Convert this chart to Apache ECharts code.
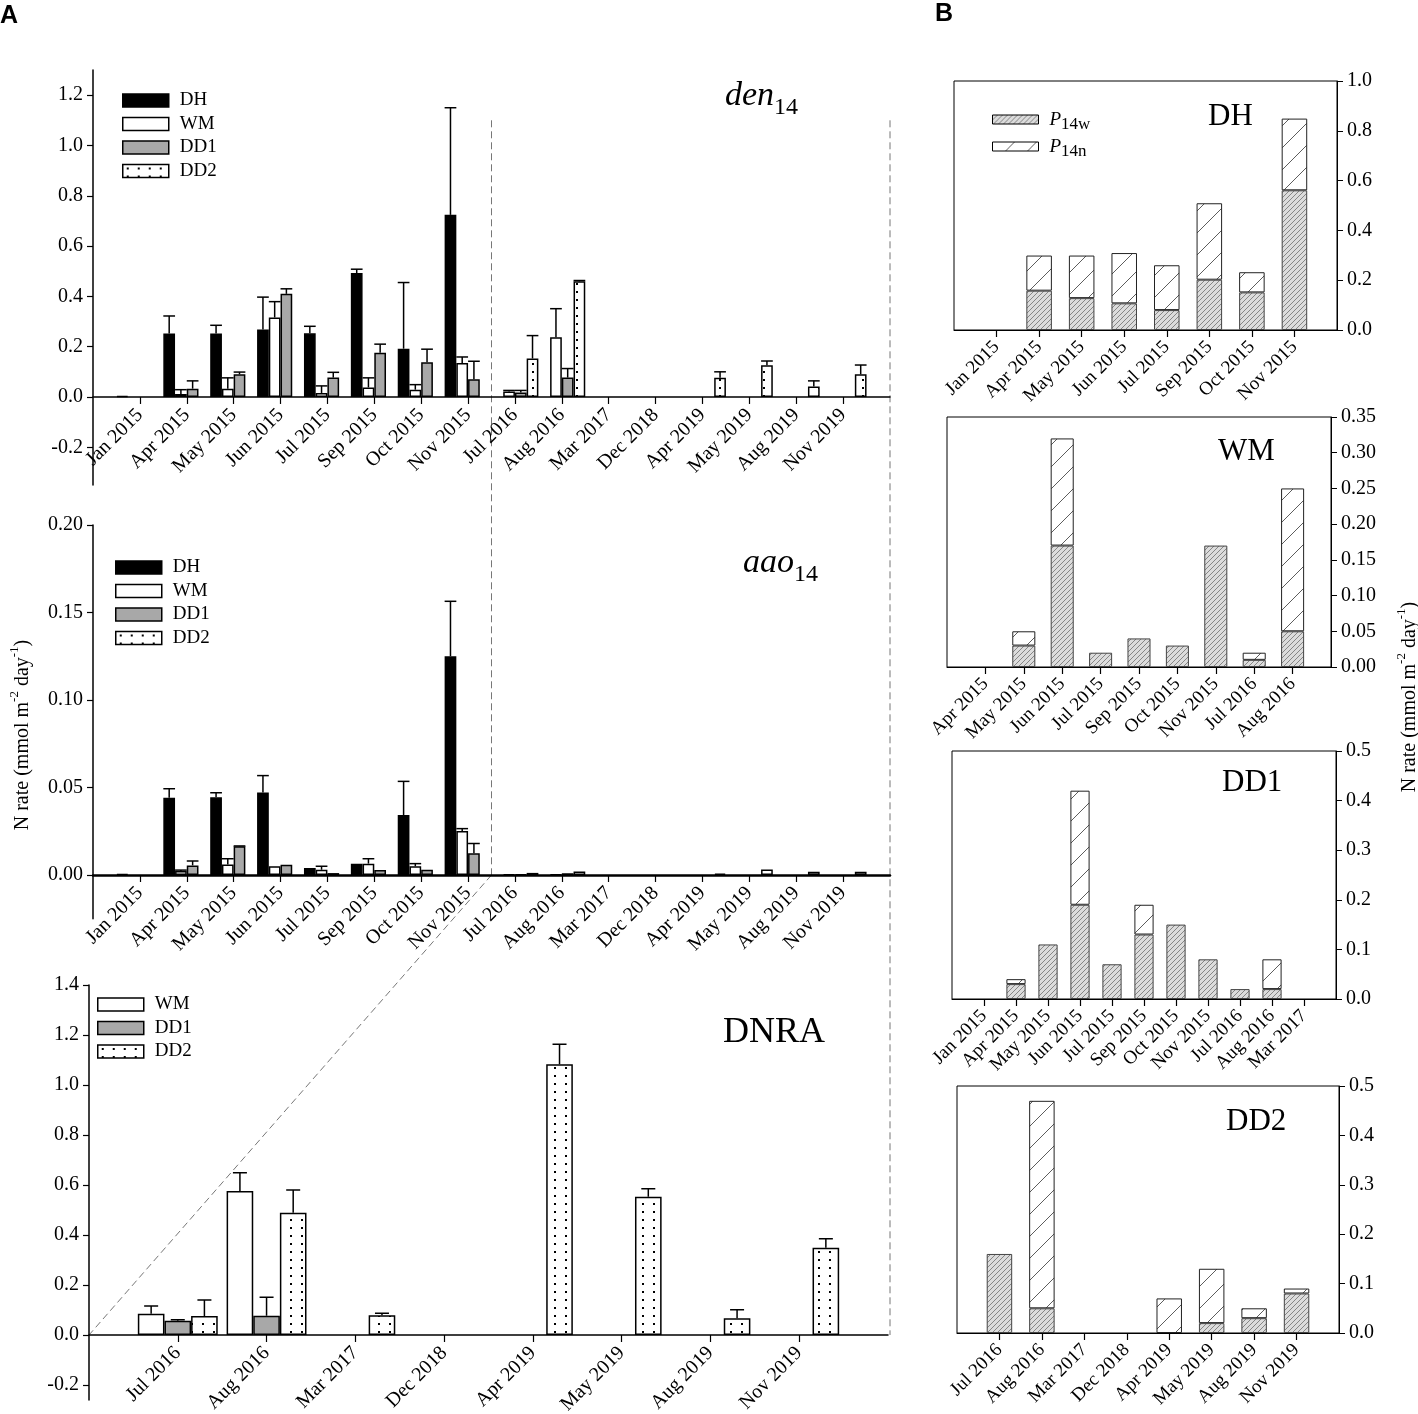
<!DOCTYPE html>
<html>
<head>
<meta charset="utf-8">
<script src="https://cdn.jsdelivr.net/npm/echarts@6/dist/echarts.min.js"></script>
<style>
html,body{margin:0;padding:0;background:#fff}
#chart{width:1418px;height:1414px}
</style>
</head>
<body>
<div id="chart"></div>
<script>
var SERIF = 'Liberation Serif';
var SANS = 'Liberation Sans';

// panel A categories
var catA = ['Jan 2015','Apr 2015','May 2015','Jun 2015','Jul 2015','Sep 2015','Oct 2015','Nov 2015',
	'Jul 2016','Aug 2016','Mar 2017','Dec 2018','Apr 2019','May 2019','Aug 2019','Nov 2019'];
var catDnra = ['Jul 2016','Aug 2016','Mar 2017','Dec 2018','Apr 2019','May 2019','Aug 2019','Nov 2019'];

// den14
var denDH = [0.004,0.252,0.252,0.268,0.253,0.493,0.192,0.724,null,null,null,null,null,null,null,null];
var denDHErr = [0,0.07,0.033,0.129,0.028,0.015,0.263,0.426,0,0,0,0,0,0,0,0];
var denWM = [null,0.012,0.033,0.316,0.016,0.038,0.029,0.135,0.022,0.237,null,null,null,null,null,null];
var denWMErr = [0,0.017,0.043,0.063,0.028,0.038,0.02,0.024,0.004,0.114,0,0,0,0,0,0];
var denDD1 = [null,0.033,0.09,0.41,0.077,0.176,0.138,0.07,0.018,0.077,null,null,null,null,null,null];
var denDD1Err = [0,0.031,0.009,0.02,0.021,0.034,0.052,0.072,0.008,0.036,0,0,0,0,0,0];
var denDD2 = [null,null,null,null,null,null,null,null,0.153,0.46,null,null,0.076,0.126,0.042,0.09];
var denDD2Err = [0,0,0,0,0,0,0,0,0.091,0.003,0,0,0.024,0.017,0.022,0.037];

// aao14
var aaoDH = [0.0005,0.0442,0.0444,0.0472,0.004,0.0065,0.0343,0.125,null,null,null,null,null,null,null,null];
var aaoDHErr = [0,0.0051,0.0026,0.0096,0,0,0.0192,0.0314,0,0,0,0,0,0,0,0];
var aaoWM = [null,0.0023,0.006,0.005,0.003,0.0065,0.005,0.0251,0.0004,0.0003,null,null,null,null,null,null];
var aaoWMErr = [0,0.0005,0.0033,0,0.002,0.0028,0.0015,0.0014,0,0,0,0,0,0,0,0];
var aaoDD1 = [null,0.0055,0.0164,0.0059,0.0011,0.0029,0.003,0.0124,0.0004,0.001,null,null,null,null,null,null];
var aaoDD1Err = [0,0.0025,0.0002,0,0,0,0,0.0056,0,0,0,0,0,0,0,0];
var aaoDD2 = [null,null,null,null,null,null,null,null,0.0012,0.002,null,null,0.0008,0.0032,0.0019,0.0019];
var aaoDD2Err = [0,0,0,0,0,0,0,0,0,0,0,0,0,0,0,0];

// DNRA
var dnraWM = [0.085,0.576,null,null,null,null,null,null];
var dnraWMErr = [0.031,0.073,0,0,0,0,0,0];
var dnraDD1 = [0.057,0.077,null,null,null,null,null,null];
var dnraDD1Err = [0.004,0.074,0,0,0,0,0,0];
var dnraDD2 = [0.076,0.489,0.079,null,1.083,0.553,0.067,0.349];
var dnraDD2Err = [0.064,0.091,0.008,0,0.08,0.032,0.034,0.036];

// panel B (P14w bottom, P14n on top)
var catBDH = ['Jan 2015','Apr 2015','May 2015','Jun 2015','Jul 2015','Sep 2015','Oct 2015','Nov 2015'];
var bDHw = [null,0.158,0.128,0.107,0.08,0.202,0.151,0.561];
var bDHn = [null,0.141,0.171,0.202,0.18,0.307,0.081,0.288];
var catBWM = ['Apr 2015','May 2015','Jun 2015','Jul 2015','Sep 2015','Oct 2015','Nov 2015','Jul 2016','Aug 2016'];
var bWMw = [null,0.03,0.17,0.02,0.04,0.03,0.17,0.01,0.05];
var bWMn = [null,0.02,0.15,null,null,null,null,0.01,0.20];
var catBDD1 = ['Jan 2015','Apr 2015','May 2015','Jun 2015','Jul 2015','Sep 2015','Oct 2015','Nov 2015','Jul 2016','Aug 2016','Mar 2017'];
var bDD1w = [null,0.03,0.11,0.19,0.07,0.13,0.15,0.08,0.02,0.02,null];
var bDD1n = [null,0.01,null,0.23,null,0.06,null,null,null,0.06,null];
var catBDD2 = ['Jul 2016','Aug 2016','Mar 2017','Dec 2018','Apr 2019','May 2019','Aug 2019','Nov 2019'];
var bDD2w = [0.16,0.05,null,null,null,0.02,0.03,0.08];
var bDD2n = [null,0.42,null,null,0.07,0.11,0.02,0.01];

// tick labels
var ticksDen = [-0.2,0,0.2,0.4,0.6,0.8,1.0,1.2];
var ticksAao = [0,0.05,0.1,0.15,0.2];
var ticksDnra = [-0.2,0,0.2,0.4,0.6,0.8,1.0,1.2,1.4];

// 填充图案
function dotPattern() {
	var c = document.createElement('canvas');
	c.width = 11; c.height = 8;
	var g = c.getContext('2d');
	g.fillStyle = '#fff'; g.fillRect(0, 0, 11, 8);
	g.fillStyle = '#000'; g.fillRect(4, 3, 2, 2);
	return {image: c, repeat: 'repeat'};
}
function hatchPattern(s, bg, fg, lw) {
	var c = document.createElement('canvas');
	c.width = s; c.height = s;
	var g = c.getContext('2d');
	g.fillStyle = bg; g.fillRect(0, 0, s, s);
	g.strokeStyle = fg; g.lineWidth = lw;
	g.beginPath();
	for (var k = -1; k <= 1; k++) {
		g.moveTo(k * s, s);
		g.lineTo(k * s + s, 0);
	}
	g.stroke();
	return {image: c, repeat: 'repeat'};
}
var patDots = dotPattern();
var patW = hatchPattern(5, '#dcdcdc', '#707070', 0.8);
var patN = hatchPattern(22, '#ffffff', '#333333', 0.8);

function pad(arr) { return [null].concat(arr, [null]); }
function padCat(arr) { return [' '].concat(arr, ['  ']); }

var styles = {
	DH: {color: '#000', borderColor: '#000', borderWidth: 1.5},
	WM: {color: '#fff', borderColor: '#000', borderWidth: 1.5},
	DD1: {color: '#a8a8a8', borderColor: '#000', borderWidth: 1.5},
	DD2: {color: patDots, borderColor: '#000', borderWidth: 1.5}
};

function barSeries(name, vals, grid, gap) {
	return {
		name: name, type: 'bar', xAxisIndex: grid, yAxisIndex: grid,
		data: pad(vals), barGap: '0%', barCategoryGap: gap,
		itemStyle: styles[name]
	};
}

// 误差线(只画上半部分)
function errSeries(grid, k, n, vals, errs, gapFrac) {
	var d = [];
	for (var i = 0; i < vals.length; i++) {
		if (vals[i] != null && errs[i] > 0) d.push([i + 1, vals[i], errs[i]]);
	}
	return {
		type: 'custom', xAxisIndex: grid, yAxisIndex: grid, data: d, z: 5, silent: true,
		renderItem: function(params, api) {
			var xi = api.value(0), v = api.value(1), e = api.value(2);
			var p = api.coord([xi, v]);
			var q = api.coord([xi, v + e]);
			var bw = api.size([1, 0])[0] * (1 - gapFrac) / n;
			var x = p[0] + (k - (n - 1) / 2) * bw;
			var cw = Math.min(bw, 14) / 2;
			return {
				type: 'group',
				children: [
					{type: 'line', shape: {x1: x, y1: p[1], x2: x, y2: q[1]}, style: {stroke: '#000', lineWidth: 1.5}},
					{type: 'line', shape: {x1: x - cw, y1: q[1], x2: x + cw, y2: q[1]}, style: {stroke: '#000', lineWidth: 1.5}}
				]
			};
		}
	};
}

function stackSeries(grid, w, n) {
	return [
		{name: 'P14w', type: 'bar', stack: 's' + grid, xAxisIndex: grid, yAxisIndex: grid, data: pad(w), barWidth: '60%',
			itemStyle: {color: patW, borderColor: '#444', borderWidth: 1}},
		{name: 'P14n', type: 'bar', stack: 's' + grid, xAxisIndex: grid, yAxisIndex: grid, data: pad(n), barWidth: '60%',
			itemStyle: {color: patN, borderColor: '#222', borderWidth: 1}}
	];
}

// x轴放在 y=0 处: 用 offset 从网格底边往上移
function catAxis(grid, cats, fs, lw, h, min, max, margin) {
	var off = min < 0 ? -h * (-min) / (max - min) : 0;
	return {
		type: 'category', gridIndex: grid, data: padCat(cats), boundaryGap: false, offset: off,
		axisLine: {onZero: false, lineStyle: {color: '#000', width: lw}},
		axisTick: {length: 7, lineStyle: {color: '#000', width: 1.2},
			interval: function(i, v) { return String(v).trim() !== ''; }},
		axisLabel: {interval: 0, rotate: 45, fontSize: fs, fontFamily: SERIF, color: '#000', margin: margin},
		splitLine: {show: false}
	};
}

function valAxisA(grid, min, max, ticks, dec) {
	return {
		type: 'value', gridIndex: grid, min: min, max: max,
		axisLine: {show: true, lineStyle: {color: '#000', width: 1.5}},
		axisTick: {show: true, length: 6, lineStyle: {color: '#000', width: 1.2}, customValues: ticks},
		axisLabel: {customValues: ticks, fontSize: 20, fontFamily: SERIF, color: '#000', margin: 10,
			formatter: function(v) { return v.toFixed(dec); }},
		splitLine: {show: false}
	};
}

function valAxisB(grid, max, step, dec) {
	return {
		type: 'value', gridIndex: grid, position: 'right', min: 0, max: max, interval: step,
		axisLine: {show: true, lineStyle: {color: '#000', width: 1}},
		axisTick: {show: true, length: 6, lineStyle: {color: '#000', width: 1}},
		axisLabel: {fontSize: 20, fontFamily: SERIF, color: '#000', margin: 10,
			formatter: function(v) { return v.toFixed(dec); }},
		splitLine: {show: false}
	};
}

var gridB = {show: true, borderColor: '#000', borderWidth: 1, backgroundColor: 'transparent', outerBoundsMode: 'none'};

var legendText = {fontSize: 19, fontFamily: SERIF, color: '#000', lineHeight: 21, padding: [0, 0, 0, 6]};
function legendA(names, left, top) {
	return {
		data: names, left: left, top: top, orient: 'vertical', icon: 'rect',
		itemWidth: 46, itemHeight: 13, itemGap: 2.5, padding: 0,
		itemStyle: {borderColor: '#000', borderWidth: 1.5},
		textStyle: legendText, selectedMode: false
	};
}

function subTitle(main, sub, left, top) {
	return {
		text: '{i|' + main + '}{s|' + sub + '}', left: left, top: top, padding: 0,
		textStyle: {fontWeight: 'normal', rich: {
			i: {fontFamily: SERIF, fontStyle: 'italic', fontWeight: 'normal', fontSize: 34, lineHeight: 34, verticalAlign: 'top', color: '#000'},
			s: {fontFamily: SERIF, fontWeight: 'normal', fontSize: 24, lineHeight: 24, verticalAlign: 'top', padding: [17, 0, 0, 0], color: '#000'}
		}}
	};
}
function plainTitle(text, left, top, fs) {
	return {text: text, left: left, top: top, padding: 0,
		textStyle: {fontFamily: SERIF, fontWeight: 'normal', fontSize: fs, color: '#000'}};
}

var yTitleRich = {
	t: {fontFamily: SERIF, fontSize: 20, lineHeight: 20, verticalAlign: 'top', padding: [5, 0, 0, 0], fill: '#000', color: '#000'},
	u: {fontFamily: SERIF, fontSize: 13, lineHeight: 13, verticalAlign: 'top', fill: '#000', color: '#000'}
};
var yTitleText = '{t|N rate (mmol m}{u|-2}{t| day}{u|-1}{t|)}';

var series = [];
// den14 grid 0
series.push(barSeries('DH', denDH, 0, '0%'), barSeries('WM', denWM, 0, '0%'),
	barSeries('DD1', denDD1, 0, '0%'), barSeries('DD2', denDD2, 0, '0%'));
series.push(errSeries(0, 0, 4, denDH, denDHErr, 0), errSeries(0, 1, 4, denWM, denWMErr, 0),
	errSeries(0, 2, 4, denDD1, denDD1Err, 0), errSeries(0, 3, 4, denDD2, denDD2Err, 0));
// aao14 grid 1
series.push(barSeries('DH', aaoDH, 1, '0%'), barSeries('WM', aaoWM, 1, '0%'),
	barSeries('DD1', aaoDD1, 1, '0%'), barSeries('DD2', aaoDD2, 1, '0%'));
series.push(errSeries(1, 0, 4, aaoDH, aaoDHErr, 0), errSeries(1, 1, 4, aaoWM, aaoWMErr, 0),
	errSeries(1, 2, 4, aaoDD1, aaoDD1Err, 0), errSeries(1, 3, 4, aaoDD2, aaoDD2Err, 0));
// DNRA grid 2
series.push(barSeries('WM', dnraWM, 2, '10%'), barSeries('DD1', dnraDD1, 2, '10%'), barSeries('DD2', dnraDD2, 2, '10%'));
series.push(errSeries(2, 0, 3, dnraWM, dnraWMErr, 0.1), errSeries(2, 1, 3, dnraDD1, dnraDD1Err, 0.1),
	errSeries(2, 2, 3, dnraDD2, dnraDD2Err, 0.1));
// panel B
series = series.concat(stackSeries(3, bDHw, bDHn), stackSeries(4, bWMw, bWMn),
	stackSeries(5, bDD1w, bDD1n), stackSeries(6, bDD2w, bDD2n));

var option = {
	animation: false,
	backgroundColor: '#fff',
	grid: [
		{left: 93, top: 70, width: 797, height: 415, outerBoundsMode: 'none'},
		{left: 93, top: 525, width: 797, height: 393.75, outerBoundsMode: 'none'},
		{left: 89, top: 985, width: 799, height: 415, outerBoundsMode: 'none'},
		Object.assign({left: 954, top: 81, width: 383, height: 249}, gridB),
		Object.assign({left: 947, top: 417, width: 384, height: 250}, gridB),
		Object.assign({left: 952, top: 751, width: 384, height: 248}, gridB),
		Object.assign({left: 957, top: 1086, width: 382, height: 247}, gridB)
	],
	xAxis: [
		catAxis(0, catA, 20, 1.5, 415, -0.35, 1.3, 15),
		catAxis(1, catA, 20, 2.5, 393.75, -0.025, 0.2, 15),
		catAxis(2, catDnra, 20, 1.5, 415, -0.26, 1.4, 15),
		catAxis(3, catBDH, 19, 1, 249, 0, 1, 14),
		catAxis(4, catBWM, 19, 1, 250, 0, 1, 14),
		catAxis(5, catBDD1, 19, 1, 248, 0, 1, 14),
		catAxis(6, catBDD2, 19, 1, 247, 0, 1, 14)
	],
	yAxis: [
		valAxisA(0, -0.35, 1.3, ticksDen, 1),
		valAxisA(1, -0.025, 0.2, ticksAao, 2),
		valAxisA(2, -0.26, 1.4, ticksDnra, 1),
		valAxisB(3, 1.0, 0.2, 1),
		valAxisB(4, 0.35, 0.05, 2),
		valAxisB(5, 0.5, 0.1, 1),
		valAxisB(6, 0.5, 0.1, 1)
	],
	legend: [
		legendA(['DH', 'WM', 'DD1', 'DD2'], 122, 90),
		legendA(['DH', 'WM', 'DD1', 'DD2'], 115, 557),
		legendA(['WM', 'DD1', 'DD2'], 97, 994),
		{
			data: ['P14w', 'P14n'], left: 992, top: 110, orient: 'vertical', icon: 'rect',
			itemWidth: 46, itemHeight: 9, itemGap: 4, padding: 0, selectedMode: false,
			itemStyle: {borderColor: '#000', borderWidth: 1},
			formatter: function(name) { return '{i|P}{s|' + name.slice(1) + '}'; },
			textStyle: {padding: [0, 0, 0, 6], rich: {
				i: {fontFamily: SERIF, fontStyle: 'italic', fontSize: 19, lineHeight: 19, verticalAlign: 'top', color: '#000'},
				s: {fontFamily: SERIF, fontSize: 17, lineHeight: 17, verticalAlign: 'top', padding: [6, 0, 0, 0], color: '#000'}
			}}
		}
	],
	title: [
		subTitle('den', '14', 725, 79),
		subTitle('aao', '14', 743, 546),
		plainTitle('DNRA', 723, 1015, 36),
		plainTitle('DH', 1208, 101, 31),
		plainTitle('WM', 1218, 436, 31),
		plainTitle('DD1', 1222, 767, 31),
		plainTitle('DD2', 1226, 1106, 31),
		{text: 'A', left: 0, top: 4, padding: 0, textStyle: {fontFamily: SANS, fontWeight: 'bold', fontSize: 25, color: '#000'}},
		{text: 'B', left: 935, top: 2, padding: 0, textStyle: {fontFamily: SANS, fontWeight: 'bold', fontSize: 25, color: '#000'}}
	],
	series: series
};

var chart = echarts.init(document.getElementById('chart'));
chart.setOption(option);

// 虚线连接线和坐标轴标题
function px(grid, x, y) { return chart.convertToPixel({gridIndex: grid}, [x, y]); }
var xMid = (px(0, 8, 0)[0] + px(0, 9, 0)[0]) / 2;
var xRight = px(0, 17, 0)[0];
var yTop = px(0, 1, 1.1)[1];
var yMid0 = px(1, 1, 0)[1];
var pBot = px(2, 0, 0);
var dash = {stroke: '#777', lineWidth: 1, lineDash: [7, 4]};
chart.setOption({
	graphic: [
		{type: 'line', silent: true, shape: {x1: xMid, y1: yTop, x2: xMid, y2: yMid0}, style: dash},
		{type: 'line', silent: true, shape: {x1: xRight, y1: yTop, x2: xRight, y2: pBot[1]}, style: dash},
		{type: 'line', silent: true, shape: {x1: xMid, y1: yMid0, x2: pBot[0], y2: pBot[1]}, style: dash},
		{type: 'text', x: 18, y: 735, rotation: Math.PI / 2, silent: true,
			style: {text: yTitleText, rich: yTitleRich, align: 'center', verticalAlign: 'middle'}},
		{type: 'text', x: 1405, y: 697, rotation: Math.PI / 2, silent: true,
			style: {text: yTitleText, rich: yTitleRich, align: 'center', verticalAlign: 'middle'}}
	]
});
</script>
</body>
</html>
